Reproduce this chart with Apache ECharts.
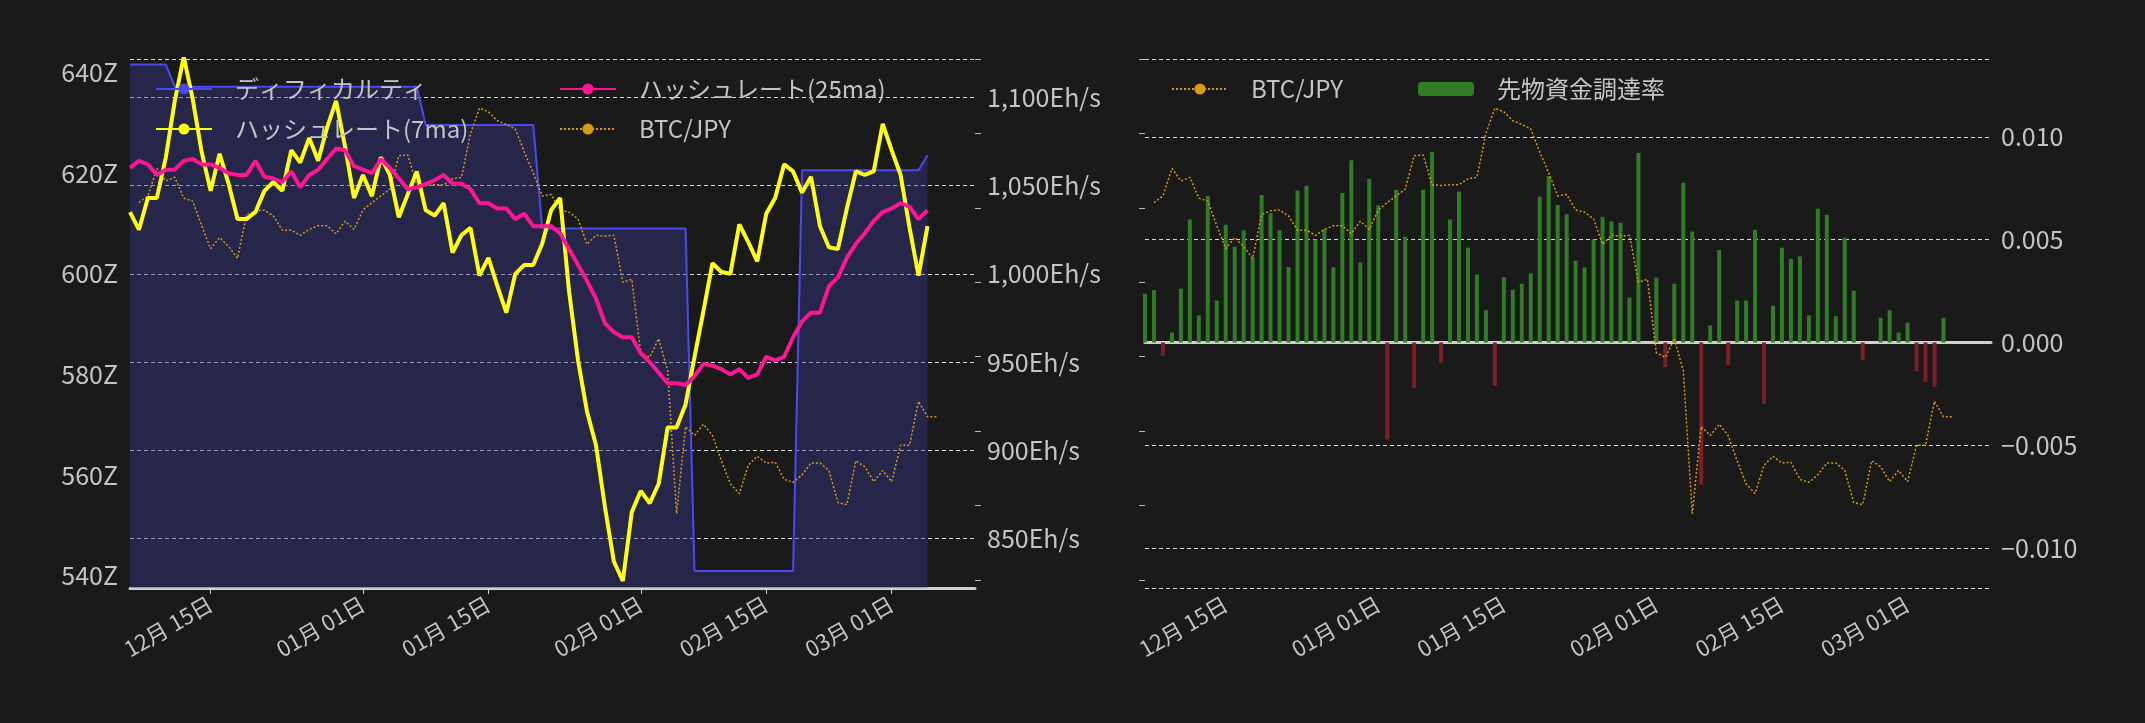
<!DOCTYPE html>
<html>
<head>
<meta charset="utf-8">
<script src="https://cdn.jsdelivr.net/npm/echarts@6/dist/echarts.min.js"></script>
<style>
  html, body { margin: 0; padding: 0; background: #1a1a1a; }
  #chart { width: 2145px; height: 723px; }
</style>
</head>
<body>
<div id="chart"></div>
<script>
// daily data, 2024-12-06 .. 2025-03-05 (90 days)
const startDay = new Date(2024, 11, 6).getTime();
const DAY = 86400000;

const difficulty = [
  641.6, 641.6, 641.6, 641.6, 641.6, 637.2, 637.2, 637.2, 637.2, 637.2,
  637.2, 637.2, 637.2, 637.2, 637.2, 637.2, 637.2, 637.2, 637.2, 637.2,
  637.2, 637.2, 637.2, 637.2, 637.2, 637.2, 637.2, 637.2, 637.2, 637.2,
  637.2, 637.2, 637.2, 629.6, 629.6, 629.6, 629.6, 629.6, 629.6, 629.6,
  629.6, 629.6, 629.6, 629.6, 629.6, 629.6, 609.0, 609.0, 609.0, 609.0,
  609.0, 609.0, 609.0, 609.0, 609.0, 609.0, 609.0, 609.0, 609.0, 609.0,
  609.0, 609.0, 609.0, 541.0, 541.0, 541.0, 541.0, 541.0, 541.0, 541.0,
  541.0, 541.0, 541.0, 541.0, 541.0, 620.6, 620.6, 620.6, 620.6, 620.6,
  620.6, 620.6, 620.6, 620.6, 620.6, 620.6, 620.6, 620.6, 620.6, 623.6
];

const hashrate7 = [
  1035, 1025, 1043, 1043, 1066, 1098, 1123, 1099, 1069, 1047,
  1068, 1051, 1031, 1031, 1035, 1047, 1052, 1047, 1070, 1063,
  1077, 1064, 1083, 1098, 1072, 1043, 1056, 1044, 1066, 1056,
  1032, 1045, 1058, 1036, 1033, 1040, 1012, 1022, 1026, 999,
  1009, 993, 978, 1000, 1005, 1005, 1017, 1036, 1043, 990,
  951, 922, 903, 868, 837, 826, 865, 877, 870, 881,
  913, 913, 926, 953, 979, 1006, 1001, 1000, 1028, 1018,
  1007, 1034, 1043, 1062, 1058, 1046, 1055, 1027, 1015, 1014,
  1037, 1058, 1056, 1058, 1085, 1070, 1056, 1026, 999, 1027
];

const hashrate25 = [
  1060, 1064, 1062, 1056, 1059, 1059, 1064, 1065, 1062, 1062,
  1060, 1057, 1056, 1056, 1064, 1055, 1054, 1052, 1058, 1049,
  1056, 1059, 1065, 1071, 1070, 1061, 1059, 1057, 1065, 1060,
  1054, 1048, 1049, 1051, 1053, 1056, 1051, 1051, 1048, 1040,
  1040, 1037, 1037, 1031, 1034, 1027, 1027, 1027, 1023, 1014,
  1005, 996, 986, 972, 967, 964, 964, 955, 950, 944,
  938, 938, 937, 942, 949, 948, 946, 943, 946, 941,
  943, 953, 951, 953, 964, 973, 978, 978, 993, 998,
  1009, 1017, 1023, 1030, 1035, 1037, 1040, 1038, 1031, 1036
];

// BTC/JPY in million yen, 2024-12-07 .. 2025-03-06
const btcJpy = [
  15.07, 15.16, 15.53, 15.36, 15.41, 15.13, 15.09, 14.76, 14.45, 14.60,
  14.48, 14.32, 14.91, 14.96, 14.97, 14.89, 14.70, 14.70, 14.63, 14.71,
  14.76, 14.76, 14.65, 14.82, 14.71, 14.97, 15.07, 15.16, 15.25, 15.70,
  15.71, 15.31, 15.30, 15.31, 15.31, 15.39, 15.41, 16.00, 16.34, 16.29,
  16.17, 16.12, 16.06, 15.75, 15.47, 15.16, 15.18, 14.97, 14.94, 14.85,
  14.51, 14.63, 14.62, 14.63, 14.00, 14.04, 13.05, 12.99, 13.24, 12.81,
  10.89, 12.06, 11.94, 12.09, 11.94, 11.60, 11.29, 11.16, 11.54, 11.66,
  11.57, 11.58, 11.35, 11.31, 11.41, 11.57, 11.57, 11.47, 11.04, 11.01,
  11.60, 11.52, 11.32, 11.47, 11.32, 11.81, 11.81, 12.40, 12.19, 12.19
];

const fundingRate = [
  0.00237, 0.00255, -0.00065, 0.00049, 0.00262, 0.00598, 0.00132, 0.00714, 0.00204, 0.00573,
  0.00466, 0.00546, 0.00412, 0.00718, 0.00629, 0.00546, 0.00367, 0.00739, 0.00763, 0.00501,
  0.00551, 0.00367, 0.00727, 0.00886, 0.00389, 0.00797, 0.00667, -0.00472, 0.00743, 0.00515,
  -0.00222, 0.00743, 0.00927, -0.00098, 0.00598, 0.00734, 0.00461, 0.00331, 0.00157, -0.00210,
  0.00318, 0.00257, 0.00286, 0.00336, 0.00709, 0.00810, 0.00669, 0.00624, 0.00398, 0.00365,
  0.00501, 0.00611, 0.00589, 0.00582, 0.00219, 0.00922, 0, 0.00316, -0.00119, 0.00286,
  0.00777, 0.00539, -0.00692, 0.00083, 0.00450, -0.00110, 0.00204, 0.00204, 0.00548, -0.00298,
  0.00179, 0.00461, 0.00407, 0.00419, 0.00132, 0.00651, 0.00622, 0.00128, 0.00510, 0.00253,
  -0.00085, 0, 0.00121, 0.00157, 0.00049, 0.00096, -0.00139, -0.00192, -0.00215, 0.00121
];

const dateTicks = [
  new Date(2024, 11, 15).getTime(), new Date(2025, 0, 1).getTime(),
  new Date(2025, 0, 15).getTime(), new Date(2025, 1, 1).getTime(),
  new Date(2025, 1, 15).getTime(), new Date(2025, 2, 1).getTime()
];
const difficultyTicks = [540, 560, 580, 600, 620, 640];
const hashTicks = [850, 900, 950, 1000, 1050, 1100];
const btcTicks = [10, 11, 12, 13, 14, 15, 16, 17];
const fundingTicks = [-0.01, -0.005, 0, 0.005, 0.01];

const pair = (arr, offset) => arr.map((v, i) => [startDay + (i + offset) * DAY, v]);

const FONT = '"Noto Sans CJK JP", "Noto Sans", sans-serif';
const TXT = '#c4c4c4';
const xMin = startDay;
const xMax = startDay + 94.3 * DAY;

function xAxisFor(gridIndex, ticks) {
  return {
    type: 'value', gridIndex: gridIndex, min: xMin, max: xMax,
    axisLine: { show: true, lineStyle: { color: '#d0d0d0', width: 3 } },
    axisTick: { show: ticks, length: 6, lineStyle: { color: '#d0d0d0' }, customValues: dateTicks },
    axisLabel: {
      rotate: 30, color: TXT, fontSize: 22, fontFamily: FONT, margin: 14,
      customValues: dateTicks,
      formatter: v => {
        const d = new Date(v);
        return String(d.getMonth() + 1).padStart(2, '0') + '月 ' + String(d.getDate()).padStart(2, '0') + '日';
      }
    },
    splitLine: { show: false }
  };
}

function legendAt(name, left, top) {
  return {
    data: [name], left: left, top: top, itemWidth: 56, itemHeight: 14,
    textStyle: { color: TXT, fontSize: 24, fontFamily: FONT, padding: [0, 0, 0, 18] }
  };
}

const dashed = { show: true, lineStyle: { color: '#d8d8d8', type: [4, 3], width: 1 } };

const option = {
  backgroundColor: '#1a1a1a',
  animation: false,
  legend: [
    legendAt('ディフィカルティ', 150, 72),
    legendAt('ハッシュレート(25ma)', 554, 72),
    legendAt('ハッシュレート(7ma)', 150, 112),
    legendAt('BTC/JPY', 554, 112),
    legendAt('BTC/JPY', 1166, 72),
    legendAt('先物資金調達率', 1413, 72)
  ],
  grid: [
    { left: 130, top: 59, width: 845, height: 529 },
    { left: 1145, top: 59, width: 846, height: 529 }
  ],
  xAxis: [xAxisFor(0, true), xAxisFor(1, false)],
  yAxis: [
    { type: 'value', gridIndex: 0, position: 'left', min: 537.6, max: 642.7,
      axisLine: { show: false }, axisTick: { show: false }, splitLine: { show: false },
      axisLabel: { color: TXT, fontSize: 25, fontFamily: FONT, customValues: difficultyTicks, formatter: '{value}Z', margin: 12 } },
    { type: 'value', gridIndex: 0, position: 'right', min: 822, max: 1121.7,
      axisLine: { show: false }, axisTick: { show: false }, splitLine: dashed,
      axisLabel: { color: TXT, fontSize: 25, fontFamily: FONT, margin: 12, customValues: hashTicks,
        formatter: v => v.toLocaleString('en-US') + 'Eh/s' } },
    { type: 'value', gridIndex: 0, position: 'right', min: 9.89, max: 17,
      axisLine: { show: false }, splitLine: { show: false }, axisLabel: { show: false },
      axisTick: { show: true, length: 6, lineStyle: { color: '#bbb' }, customValues: btcTicks } },
    { type: 'value', gridIndex: 1, position: 'right', min: -0.01194, max: 0.01379,
      axisLine: { show: false }, axisTick: { show: false }, splitLine: dashed,
      axisLabel: { color: TXT, fontSize: 25, fontFamily: FONT, margin: 10, customValues: fundingTicks,
        formatter: v => (v < 0 ? '\u2212' : '') + Math.abs(v).toFixed(3) } },
    { type: 'value', gridIndex: 1, position: 'left', min: 9.89, max: 17,
      axisLine: { show: false }, splitLine: { show: false }, axisLabel: { show: false },
      axisTick: { show: true, length: 6, lineStyle: { color: '#bbb' }, customValues: btcTicks } }
  ],
  series: [
    { name: 'ディフィカルティ', type: 'line', xAxisIndex: 0, yAxisIndex: 0, data: pair(difficulty, 0),
      symbol: 'none', color: '#4a4af0', lineStyle: { width: 2 },
      areaStyle: { color: 'rgba(58,58,150,0.55)', origin: 'start' }, z: 1 },
    { name: 'BTC/JPY', type: 'line', xAxisIndex: 0, yAxisIndex: 2, data: pair(btcJpy, 1),
      symbol: 'none', color: '#d99a12', lineStyle: { width: 1.5, type: [2, 2] }, z: 2 },
    { name: 'ハッシュレート(7ma)', type: 'line', xAxisIndex: 0, yAxisIndex: 1, data: pair(hashrate7, 0),
      symbol: 'none', color: '#ffff14', lineStyle: { width: 4 }, z: 3 },
    { name: 'ハッシュレート(25ma)', type: 'line', xAxisIndex: 0, yAxisIndex: 1, data: pair(hashrate25, 0),
      symbol: 'none', color: '#ff1493', lineStyle: { width: 4 }, z: 4 },
    { name: 'BTC/JPY', type: 'line', xAxisIndex: 1, yAxisIndex: 4, data: pair(btcJpy, 1),
      symbol: 'none', color: '#d99a12', lineStyle: { width: 1.5, type: [2, 2] }, z: 3 },
    { name: '先物資金調達率', type: 'bar', xAxisIndex: 1, yAxisIndex: 3, barWidth: 4,
      color: '#2f7d24',
      data: pair(fundingRate, 0).map(p => ({ value: p, itemStyle: { color: p[1] < 0 ? '#7e1f27' : '#2f7d24' } })),
      z: 2 }
  ]
};

echarts.init(document.getElementById('chart')).setOption(option);
</script>
</body>
</html>
